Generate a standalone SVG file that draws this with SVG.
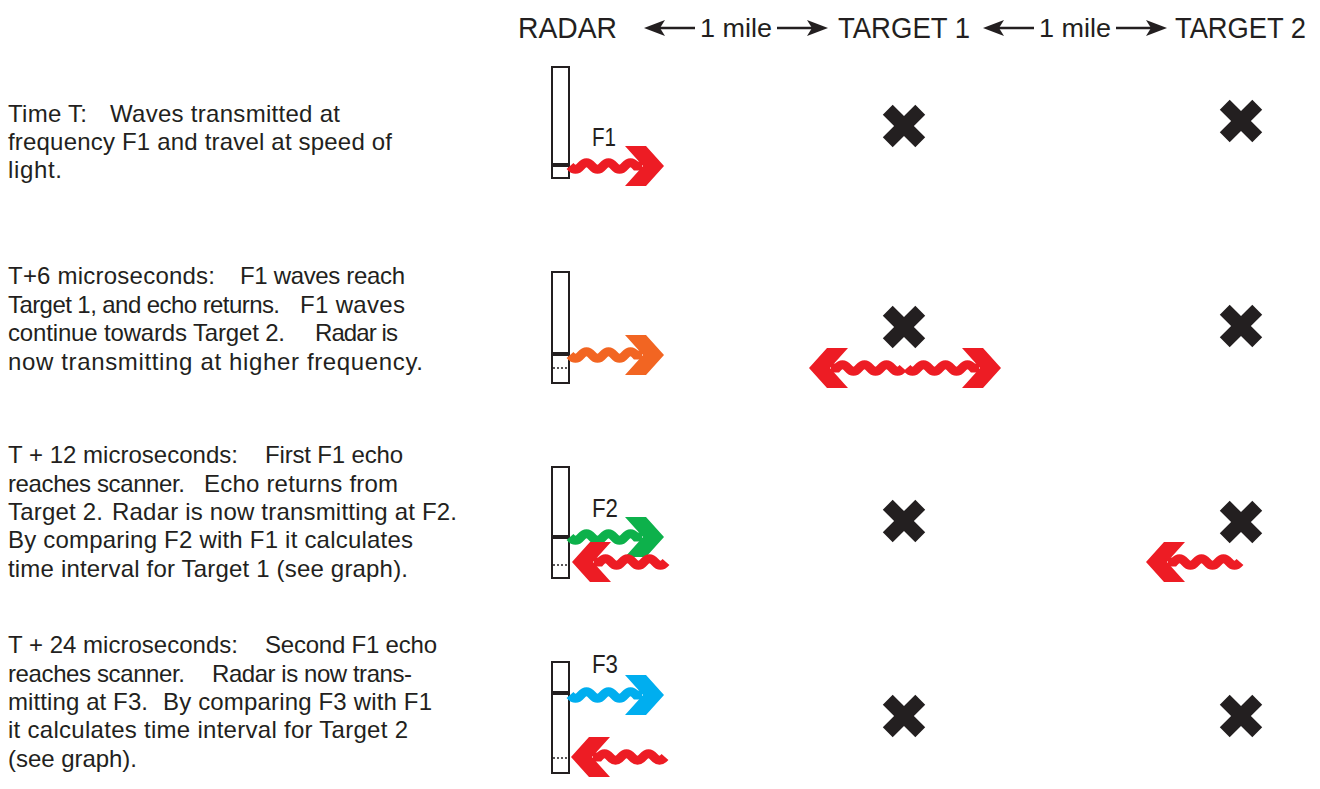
<svg xmlns="http://www.w3.org/2000/svg" xmlns:xlink="http://www.w3.org/1999/xlink" width="1320" height="789" viewBox="0 0 1320 789">
<style>
  .txt { font-family: "Liberation Sans", Arial, sans-serif; font-size: 24px; fill: #231f20; }
  .hdr { font-family: "Liberation Sans", Arial, sans-serif; font-size: 30px; fill: #231f20; }
  .mile { font-family: "Liberation Sans", Arial, sans-serif; font-size: 26px; fill: #231f20; }
  .flab { font-family: "Liberation Sans", Arial, sans-serif; font-size: 25px; fill: #231f20; }
  .radar { fill: #ffffff; stroke: #231f20; stroke-width: 2; }
  .pulse { stroke: #231f20; stroke-width: 4; }
  .dots { stroke: #231f20; stroke-width: 1.6; stroke-dasharray: 2 2; }
  .xm { fill: #231f20; }
  .dist { stroke: #231f20; stroke-width: 2.5; fill: none; }
  .head { fill: #231f20; }
</style>
<defs>
  <g id="waveR">
    <path d="M0,0 q5.5,6.5 11,0 t11,0 t11,0 t11,0 t11,0 t11,0 L72,0" fill="none" stroke="currentColor" stroke-width="9"/>
    <polygon points="55,-20 76,-20 94,0 76,20 55,20 73,0" fill="currentColor"/>
  </g>
  <polygon id="xmark" points="-7,-23 7,-23 7,-7 23,-7 23,7 7,7 7,23 -7,23 -7,7 -23,7 -23,-7 -7,-7" transform="rotate(45)"/>
</defs>
<rect width="1320" height="789" fill="#ffffff"/>

<g id="header">
  <text class="hdr" x="518" y="38" textLength="99" lengthAdjust="spacingAndGlyphs">RADAR</text>
  <text class="mile" x="700" y="37" textLength="72" lengthAdjust="spacingAndGlyphs">1 mile</text>
  <text class="hdr" x="838" y="38" textLength="132" lengthAdjust="spacingAndGlyphs">TARGET 1</text>
  <text class="mile" x="1039" y="37" textLength="72" lengthAdjust="spacingAndGlyphs">1 mile</text>
  <text class="hdr" x="1175" y="38" textLength="131" lengthAdjust="spacingAndGlyphs">TARGET 2</text>
</g>

<g id="connectors">
  <line class="dist" x1="658" y1="28" x2="695" y2="28"/>
  <path class="head" d="M644,28 L665,20 L660,28 L665,36 Z"/>
  <line class="dist" x1="777" y1="28" x2="814" y2="28"/>
  <path class="head" d="M828,28 L807,20 L812,28 L807,36 Z"/>
  <line class="dist" x1="997" y1="28" x2="1034" y2="28"/>
  <path class="head" d="M983,28 L1004,20 L999,28 L1004,36 Z"/>
  <line class="dist" x1="1116" y1="28" x2="1153" y2="28"/>
  <path class="head" d="M1167,28 L1146,20 L1151,28 L1146,36 Z"/>
</g>

<g id="text-row1">
  <text class="txt" y="122"><tspan x="8" textLength="79">Time T:</tspan><tspan x="110" textLength="230">Waves transmitted at</tspan></text>
  <text class="txt" x="8" y="150" textLength="384">frequency F1 and travel at speed of</text>
  <text class="txt" x="8" y="178" textLength="54">light.</text>
</g>
<g id="text-row2">
  <text class="txt" y="284"><tspan x="8" textLength="207">T+6 microseconds:</tspan><tspan x="240" textLength="165">F1 waves reach</tspan></text>
  <text class="txt" y="313"><tspan x="8" textLength="272">Target 1, and echo returns.</tspan><tspan x="300" textLength="105">F1 waves</tspan></text>
  <text class="txt" y="341"><tspan x="8" textLength="277">continue towards Target 2.</tspan><tspan x="315" textLength="83">Radar is</tspan></text>
  <text class="txt" x="8" y="370" textLength="415">now transmitting at higher frequency.</text>
</g>
<g id="text-row3">
  <text class="txt" y="463"><tspan x="8" textLength="230">T + 12 microseconds:</tspan><tspan x="265" textLength="138">First F1 echo</tspan></text>
  <text class="txt" y="492"><tspan x="8" textLength="177">reaches scanner.</tspan><tspan x="204" textLength="194">Echo returns from</tspan></text>
  <text class="txt" y="520"><tspan x="8" textLength="95">Target 2.</tspan><tspan x="112" textLength="345">Radar is now transmitting at F2.</tspan></text>
  <text class="txt" x="8" y="548" textLength="405">By comparing F2 with F1 it calculates</text>
  <text class="txt" x="8" y="577" textLength="400">time interval for Target 1 (see graph).</text>
</g>
<g id="text-row4">
  <text class="txt" y="653"><tspan x="8" textLength="230">T + 24 microseconds:</tspan><tspan x="265" textLength="172">Second F1 echo</tspan></text>
  <text class="txt" y="682"><tspan x="8" textLength="177">reaches scanner.</tspan><tspan x="212" textLength="200">Radar is now trans-</tspan></text>
  <text class="txt" y="710"><tspan x="8" textLength="140">mitting at F3.</tspan><tspan x="163" textLength="269">By comparing F3 with F1</tspan></text>
  <text class="txt" x="8" y="738" textLength="400">it calculates time interval for Target 2</text>
  <text class="txt" x="8" y="767" textLength="129">(see graph).</text>
</g>

<g id="radar-row1">
  <rect class="radar" x="552" y="67" width="17" height="111"/>
  <line class="pulse" x1="552" y1="165" x2="569" y2="165"/>
</g>
<g id="radar-row2">
  <rect class="radar" x="552" y="272" width="17" height="111"/>
  <line class="pulse" x1="552" y1="354" x2="569" y2="354"/>
  <line class="dots" x1="553" y1="368" x2="568" y2="368"/>
</g>
<g id="radar-row3">
  <rect class="radar" x="552" y="467" width="17" height="111"/>
  <line class="pulse" x1="552" y1="537" x2="569" y2="537"/>
  <line class="dots" x1="553" y1="565" x2="568" y2="565"/>
</g>
<g id="radar-row4">
  <rect class="radar" x="552" y="662" width="17" height="111"/>
  <line class="pulse" x1="552" y1="693" x2="569" y2="693"/>
  <line class="dots" x1="553" y1="758" x2="568" y2="758"/>
</g>

<g id="target1">
  <use class="xm" xlink:href="#xmark" x="904" y="126"/>
  <use class="xm" xlink:href="#xmark" x="904" y="327"/>
  <use class="xm" xlink:href="#xmark" x="904" y="521"/>
  <use class="xm" xlink:href="#xmark" x="904" y="716"/>
</g>
<g id="target2">
  <use class="xm" xlink:href="#xmark" x="1241" y="121"/>
  <use class="xm" xlink:href="#xmark" x="1241" y="326"/>
  <use class="xm" xlink:href="#xmark" x="1241" y="522"/>
  <use class="xm" xlink:href="#xmark" x="1241" y="716"/>
</g>

<g id="waves">
  <use xlink:href="#waveR" transform="translate(570,166)" color="#ed1c24"/>
  <use xlink:href="#waveR" transform="translate(570,355)" color="#f26522"/>
  <use xlink:href="#waveR" transform="translate(903,368) scale(-1,1)" color="#ed1c24"/>
  <use xlink:href="#waveR" transform="translate(907,368)" color="#ed1c24"/>
  <use xlink:href="#waveR" transform="translate(570,537)" color="#0db14b"/>
  <use xlink:href="#waveR" transform="translate(666,562) scale(-1,1)" color="#ed1c24"/>
  <use xlink:href="#waveR" transform="translate(1240,562) scale(-1,1)" color="#ed1c24"/>
  <use xlink:href="#waveR" transform="translate(570,695)" color="#00aeef"/>
  <use xlink:href="#waveR" transform="translate(665,757) scale(-1,1)" color="#ed1c24"/>
</g>

<g id="freq-labels">
  <text class="flab" x="592" y="146" textLength="24" lengthAdjust="spacingAndGlyphs">F1</text>
  <text class="flab" x="592" y="517" textLength="26" lengthAdjust="spacingAndGlyphs">F2</text>
  <text class="flab" x="592" y="673" textLength="26" lengthAdjust="spacingAndGlyphs">F3</text>
</g>
</svg>
